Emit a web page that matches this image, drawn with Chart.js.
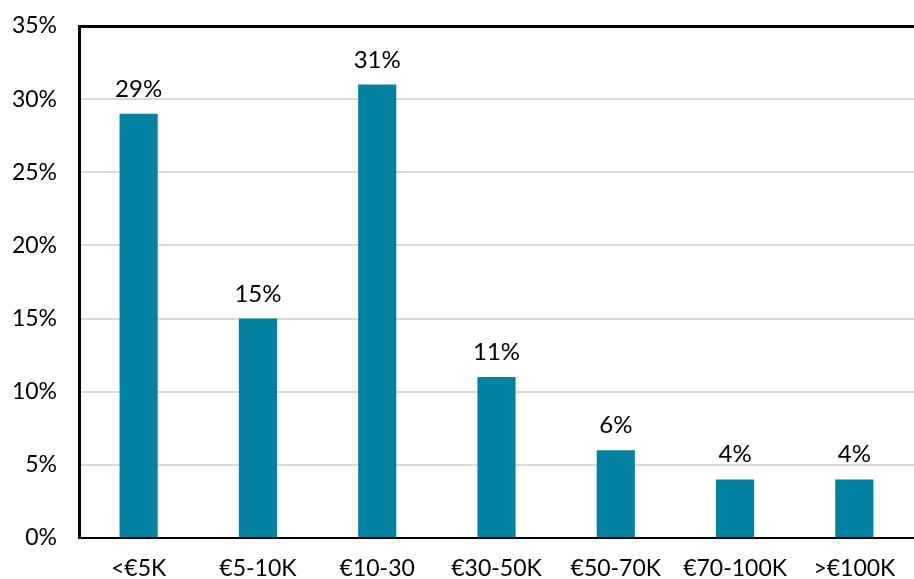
<!DOCTYPE html>
<html>
<head>
<meta charset="utf-8">
<script src="https://cdn.jsdelivr.net/npm/chart.js@4"></script>
<style>
  html, body { margin: 0; padding: 0; background: #fff; }
  canvas { display: block; }
</style>
</head>
<body>
<canvas id="incomeChart" width="914" height="579"></canvas>
<script>
const categories = ['<€5K', '€5-10K', '€10-30', '€30-50K', '€50-70K', '€70-100K', '>€100K'];
const shares = [29, 15, 31, 11, 6, 4, 4];
const yTicks = [0, 5, 10, 15, 20, 25, 30, 35];

const FONT = 'Lato, "Noto Sans", sans-serif';

// draws the value above each bar
const valueLabels = {
    id: 'valueLabels',
    afterDatasetsDraw(chart) {
        const ctx = chart.ctx;
        const meta = chart.getDatasetMeta(0);
        ctx.save();
        ctx.font = '24px ' + FONT;
        ctx.fillStyle = '#000';
        ctx.textAlign = 'center';
        ctx.textBaseline = 'alphabetic';
        meta.data.forEach((bar, i) => {
            ctx.fillText(shares[i] + '%', bar.x, bar.y - 17);
        });
        ctx.restore();
    }
};

const ctx = document.getElementById('incomeChart').getContext('2d');
const incomeChart = new Chart(ctx, {
    type: 'bar',
    data: {
        labels: categories,
        datasets: [{
            data: shares,
            backgroundColor: '#0082a0',
            barPercentage: 0.32,
            categoryPercentage: 1
        }]
    },
    plugins: [valueLabels],
    options: {
        responsive: false,
        animation: false,
        layout: { padding: { top: 26, right: 0, left: 0, bottom: 0 } },
        plugins: {
            legend: { display: false },
            tooltip: { enabled: false }
        },
        scales: {
            x: {
                grid: { display: false, drawTicks: false },
                border: { color: '#000', width: 2 },
                ticks: {
                    color: '#000',
                    font: { family: FONT, size: 23 },
                    padding: 17,
                    maxRotation: 0
                },
                afterFit(scale) {
                    scale.height = 41;
                    scale.paddingLeft = 0;
                    scale.paddingRight = 0;
                }
            },
            y: {
                min: 0,
                max: 35,
                afterBuildTicks(scale) {
                    scale.ticks = yTicks.map(v => ({ value: v }));
                },
                grid: {
                    drawTicks: false,
                    color: c => c.tick && c.tick.value === 35 ? '#000' : '#d9d9d9',
                    lineWidth: c => c.tick && c.tick.value === 35 ? 3 : 2
                },
                border: { color: '#000', width: 3 },
                ticks: {
                    color: '#000',
                    font: { family: FONT, size: 23 },
                    padding: 22,
                    callback: v => v + '%'
                },
                afterFit(scale) {
                    scale.width = 79;
                    scale.paddingTop = 0;
                    scale.paddingBottom = 0;
                }
            }
        }
    }
});
</script>
</body>
</html>
